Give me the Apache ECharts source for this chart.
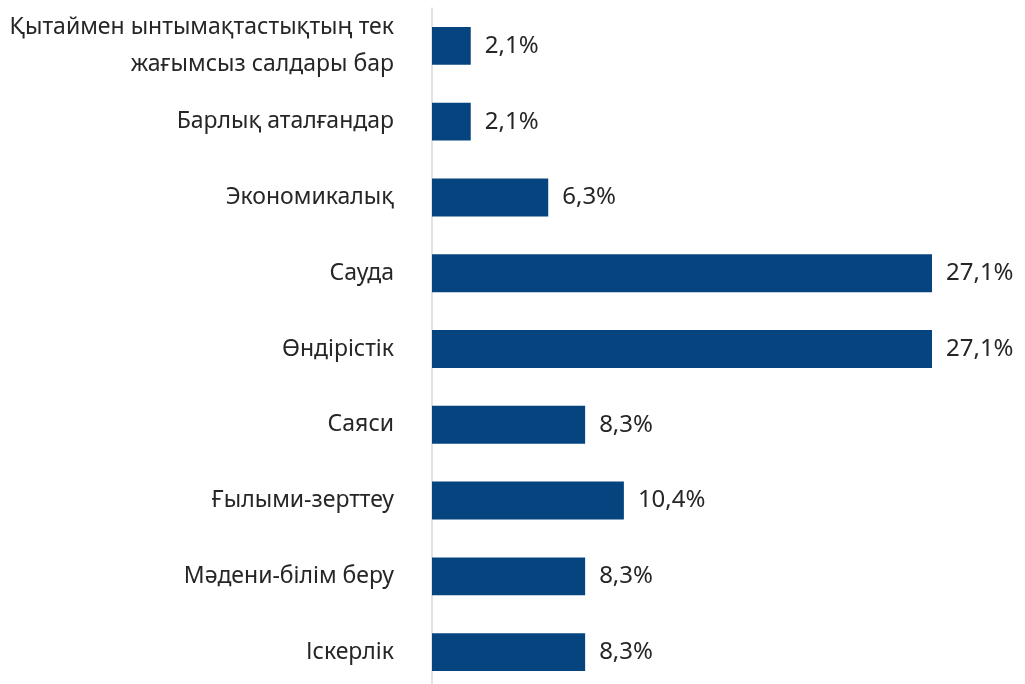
<!DOCTYPE html>
<html>
<head>
<meta charset="utf-8">
<script src="https://cdn.jsdelivr.net/npm/echarts@6/dist/echarts.min.js"></script>
<style>
html,body{margin:0;padding:0;background:#fff;overflow:hidden;}
#chart{width:1025px;height:691px;}
</style>
</head>
<body>
<div id="chart"></div>
<script>
const categories = [
  "Қытаймен ынтымақтастықтың тек\nжағымсыз салдары бар",
  "Барлық аталғандар",
  "Экономикалық",
  "Сауда",
  "Өндірістік",
  "Саяси",
  "Ғылыми-зерттеу",
  "Мәдени-білім беру",
  "Іскерлік"
];
const values = [2.1, 2.1, 6.3, 27.1, 27.1, 8.3, 10.4, 8.3, 8.3];

const chart = echarts.init(document.getElementById('chart'), null, {renderer: 'canvas'});
chart.setOption({
  animation: false,
  backgroundColor: '#ffffff',
  grid: {left: 432, right: 39.5, top: 8, bottom: 1, containLabel: false},
  xAxis: {
    type: 'value', min: 0, max: 30, show: false,
    splitLine: {show: false}
  },
  yAxis: {
    type: 'category', data: categories, inverse: true,
    axisLine: {show: true, lineStyle: {color: '#d9d9d9', width: 1.5}},
    axisTick: {show: false},
    axisLabel: {
      color: '#262626', fontSize: 23, fontFamily: 'Noto Sans',
      margin: 38, align: 'right', lineHeight: 37
    }
  },
  series: [{
    type: 'bar', data: values, barWidth: '50%',
    itemStyle: {color: '#05447f'},
    label: {
      show: true, position: 'right', distance: 14,
      color: '#262626', fontSize: 24, fontFamily: 'Noto Sans',
      formatter: p => p.value.toFixed(1).replace('.', ',') + '%'
    }
  }]
});
</script>
</body>
</html>
